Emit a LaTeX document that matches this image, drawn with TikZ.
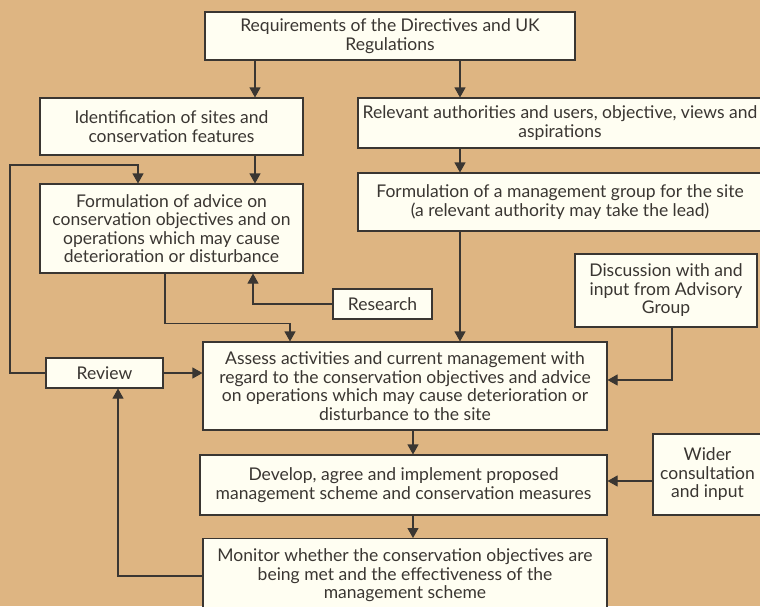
\documentclass[tikz,border=0pt]{standalone}
\usepackage{fontspec}
\setmainfont{Lato}
\usepackage{tikz}
\usetikzlibrary{arrows.meta}
\definecolor{PaperTan}{RGB}{222, 181, 130}
\definecolor{BoxCream}{RGB}{255, 254, 242}
\definecolor{InkGrey}{RGB}{58, 54, 50}

\begin{document}
\begin{tikzpicture}[x=1pt, y=-1pt,
    caja/.style={draw=InkGrey, line width=1.1pt, fill=BoxCream, align=center,
        inner sep=0pt, font=\fontsize{17.5}{18.5}\selectfont, text=InkGrey},
    flecha/.style={draw=InkGrey, line width=1.1pt, -{Triangle[length=10pt, width=11pt]}}]
    % Fondo
    \useasboundingbox (0,0) rectangle (760,606);
    \fill[PaperTan] (0,0) rectangle (760,606);
    \clip (0,0) rectangle (760,606);

    % Cajas
    \node[caja, minimum width=370, minimum height=48] (req) at (390,36)
        {Requirements of the Directives and UK\\Regulations};
    \node[caja, minimum width=263, minimum height=57] (ident) at (171.5,126.5)
        {Identification of sites and\\conservation features};
    \node[caja, minimum width=404, minimum height=50] (relev) at (560,123)
        {Relevant authorities and users, objective, views and\\aspirations};
    \node[caja, minimum width=263, minimum height=89] (advice) at (171.5,228.5)
        {Formulation of advice on\\conservation objectives and on\\operations which may cause\\deterioration or disturbance};
    \node[caja, minimum width=404, minimum height=58] (group) at (560,202)
        {Formulation of a management group for the site\\(a relevant authority may take the lead)};
    \node[caja, minimum width=182, minimum height=73] (discuss) at (666,290.5)
        {Discussion with and\\input from Advisory\\Group};
    \node[caja, minimum width=99, minimum height=30] (research) at (382.5,304) {Research};
    \node[caja, minimum width=117, minimum height=30] (review) at (104.5,373) {Review};
    \node[caja, minimum width=404, minimum height=88] (assess) at (405,386)
        {Assess activities and current management with\\regard to the conservation objectives and advice\\on operations which may cause deterioration or\\disturbance to the site};
    \node[caja, minimum width=407, minimum height=60] (develop) at (403.5,485)
        {Develop, agree and implement proposed\\management scheme and conservation measures};
    \node[caja, minimum width=109, minimum height=81] (wider) at (707.5,474.5)
        {Wider\\consultation\\and input};
    \node[caja, minimum width=404, minimum height=74, anchor=north] (monitor) at (405,538)
        {Monitor whether the conservation objectives are\\being met and the effectiveness of the\\management scheme};

    % Flechas principales
    \draw[flecha] (req.south -| 255,0) -- (ident.north -| 255,0);
    \draw[flecha] (req.south -| 460,0) -- (relev.north -| 460,0);
    \draw[flecha] (ident.south -| 255,0) -- (advice.north -| 255,0);
    \draw[flecha] (relev.south -| 460,0) -- (group.north -| 460,0);
    \draw[flecha] (group.south -| 460,0) -- (assess.north -| 460,0);
    \draw[flecha] (advice.south -| 165,0) -- ++(0,50) -| (assess.north -| 290,0);
    \draw[flecha] (research.west) -| (advice.south -| 253,0);
    \draw[flecha] (discuss.south -| 672,0) |- ([yshift=6pt]assess.east);
    \draw[flecha] (assess.south -| 413,0) -- (develop.north -| 413,0);
    \draw[flecha] (develop.south -| 413,0) -- (monitor.north -| 413,0);
    \draw[flecha] (wider.west |- 0,481) -- (develop.east |- 0,481);

    % Bucle de revision
    \draw[flecha] (review.east) -- (assess.west |- review.east);
    \draw[flecha] (review.west) -- (10,373) -- (10,165) -| (advice.north -| 138,0);
    \draw[flecha] (monitor.west |- 0,576) -| (review.south -| 118,0);
\end{tikzpicture}
\end{document}
